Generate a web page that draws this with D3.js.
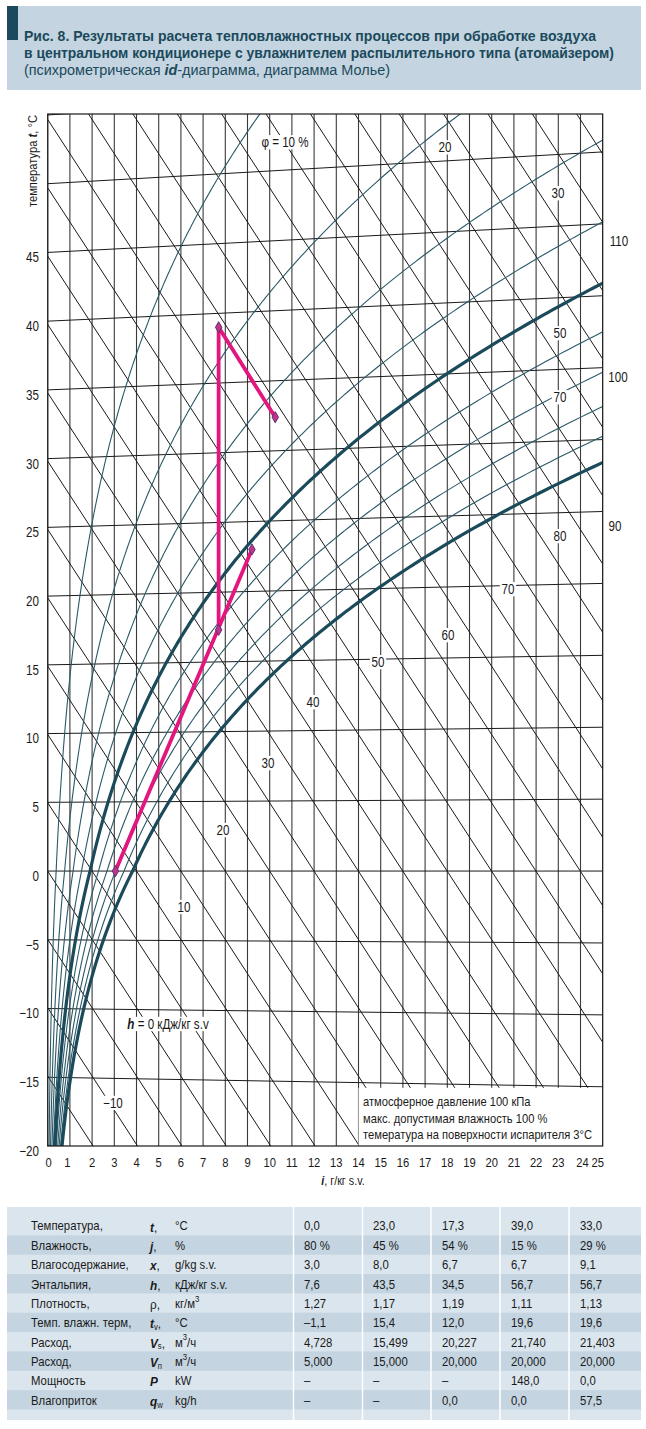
<!DOCTYPE html>
<html><head><meta charset="utf-8">
<script src="https://cdn.jsdelivr.net/npm/d3@7"></script>
<style>
body{margin:0;background:#fff;}
svg text{font-family:"Liberation Sans","Arial",sans-serif;}
</style></head><body>
<svg id="c" width="646" height="1429"></svg>
<script>
// ---------------- DATA ----------------
const xTicks = d3.range(0, 26);                    // moisture content, g/kg
const isotherms = d3.range(-20, 56, 5);            // °C
const tTickLabels = [45, 40, 35, 30, 25, 20, 15, 10, 5, 0, -5, -10, -15, -20];
const enthalpies = d3.range(-20, 120, 5);          // kJ/kg
const rhThin = [0.1, 0.2, 0.3, 0.4, 0.6, 0.7, 0.8, 0.9];
const rhThick = [0.5, 1.0];

// process points as plotted (x g/kg, t °C)
const procX = [3.05, 9.2, 7.7, 7.7, 10.25];
const procT = [0, 23, 17.3, 39, 32.4];
const procSegments = [[0, 1], [2, 3], [3, 4]];

// annotation labels (x g/kg, oblique y)
const hLabelText = ["−10", "10", "20", "30", "40", "50", "60", "70", "80"];
const hLabelX = [2.94, 6.14, 7.9, 9.92, 11.95, 14.88, 18.03, 20.73, 23.08];
const hLabelY = [-16.97, -2.63, 3.0, 7.9, 12.36, 15.29, 17.26, 20.63, 24.51];
const rhLabelText = ["φ = 10 %", "20", "30", "50", "70"];
const rhLabelX = [10.69, 17.9, 22.99, 23.08, 23.08];
const rhLabelY = [53.33, 52.96, 49.6, 39.36, 34.67];
const hRightText = ["110", "100", "90"];
const hRightX = [25.73, 25.69, 25.55];
const hRightY = [46.09, 36.14, 25.24];

// table
const rowLabels = ["Температура,", "Влажность,", "Влагосодержание,", "Энтальпия,", "Плотность,",
  "Темп. влажн. терм,", "Расход,", "Расход,", "Мощность", "Влагоприток"];
const rowSym = [["t", "", ","], ["j", "", ","], ["x", "", ","], ["h", "", ","], ["ρ", "", ","],
  ["t", "v", ","], ["V", "s", ","], ["V", "п", ""], ["P", "", ""], ["q", "w", ""]];
const rowUnit = [["°C", ""], ["%", ""], ["g/kg s.v.", ""], ["кДж/кг s.v.", ""], ["кг/м", "3"],
  ["°C", ""], ["м", "3", "/ч"], ["м", "3", "/ч"], ["kW", ""], ["kg/h", ""]];
const col1 = ["0,0", "80 %", "3,0", "7,6", "1,27", "–1,1", "4,728", "5,000", "–", "–"];
const col2 = ["23,0", "45 %", "8,0", "43,5", "1,17", "15,4", "15,499", "15,000", "–", "–"];
const col3 = ["17,3", "54 %", "6,7", "34,5", "1,19", "12,0", "20,227", "20,000", "–", "0,0"];
const col4 = ["39,0", "15 %", "6,7", "56,7", "1,11", "19,6", "21,740", "20,000", "148,0", "0,0"];
const col5 = ["33,0", "29 %", "9,1", "56,7", "1,13", "19,6", "21,403", "20,000", "0,0", "57,5"];

// ---------------- PHYSICS ----------------
const P = 100; // kPa
function psat(t) {
  return t >= 0 ? 0.61094 * Math.exp(17.625 * t / (t + 243.04))
                : 0.61115 * Math.exp(22.452 * t / (272.55 + t));
}
const Yof = (t, x) => t * (1.006 + 0.00186 * x);   // oblique ordinate

// ---------------- SCALES ----------------
const svg = d3.select("#c");
const xS = d3.scaleLinear().domain([0, 25]).range([47.7, 602.7]);
const yS = d3.scaleLinear().domain([-20.12, 55.4]).range([1146, 114]);
const L = xS(0), R = xS(25), T = yS(55.4), B = yS(-20.12);
const INK = "#1a1a1a", SX = 0.83;

// condensed text helper
function ctext(parent, x, y, size, opts = {}) {
  const gg = parent.append("g").attr("transform", `translate(${x},${y}) scale(${opts.sx || SX},1)`);
  const t = gg.append("text").attr("x", 0).attr("y", 0).attr("text-anchor", opts.anchor || "middle")
    .attr("dominant-baseline", opts.baseline || "central").attr("font-size", size).attr("fill", INK);
  return { g: gg, t };
}
function backing(o) {
  const bb = o.t.node().getBBox();
  o.g.insert("rect", "text").attr("x", bb.x - 2).attr("y", bb.y + 1).attr("width", bb.width + 4).attr("height", bb.height - 2).attr("fill", "#fff");
}

// title block
svg.append("rect").attr("x", 7).attr("y", 6).attr("width", 634).attr("height", 84).attr("fill", "#c4d4e0");
svg.append("rect").attr("x", 7).attr("y", 6).attr("width", 11).attr("height", 34).attr("fill", "#1b4a5c");
const tc = "#1b4a5c";
svg.append("text").attr("x", 24).attr("y", 41).attr("fill", tc).attr("font-weight", "bold").attr("font-size", 14)
  .attr("textLength", 572).attr("lengthAdjust", "spacingAndGlyphs")
  .text("Рис. 8. Результаты расчета тепловлажностных процессов при обработке воздуха");
svg.append("text").attr("x", 24).attr("y", 58).attr("fill", tc).attr("font-weight", "bold").attr("font-size", 14)
  .attr("textLength", 590).attr("lengthAdjust", "spacingAndGlyphs")
  .text("в центральном кондиционере с увлажнителем распылительного типа (атомайзером)");
const t3 = svg.append("text").attr("x", 24).attr("y", 75).attr("fill", tc).attr("font-size", 14)
  .attr("textLength", 366).attr("lengthAdjust", "spacingAndGlyphs");
t3.append("tspan").text("(психрометрическая ");
t3.append("tspan").attr("font-weight", "bold").attr("font-style", "italic").text("id");
t3.append("tspan").text("-диаграмма, диаграмма Молье)");

// clip
svg.append("clipPath").attr("id", "plot").append("rect").attr("x", L).attr("y", T).attr("width", R - L).attr("height", B - T);
const g = svg.append("g").attr("clip-path", "url(#plot)");

// vertical grid
g.selectAll("line.v").data(xTicks).join("line")
  .attr("x1", d => xS(d)).attr("x2", d => xS(d)).attr("y1", T).attr("y2", B)
  .attr("stroke", "#3a3a3a").attr("stroke-width", 1.1);

// isotherms
g.selectAll("line.t").data(isotherms).join("line")
  .attr("x1", xS(0)).attr("y1", d => yS(Yof(d, 0)))
  .attr("x2", xS(25)).attr("y2", d => yS(Yof(d, 25)))
  .attr("stroke", INK).attr("stroke-width", 1);

// enthalpy lines
g.selectAll("line.h").data(enthalpies).join("line")
  .attr("x1", xS(0)).attr("y1", d => yS(d))
  .attr("x2", xS(25)).attr("y2", d => yS(d - 2.501 * 25))
  .attr("stroke", INK).attr("stroke-width", 1);

// RH curves
function rhPts(phi) {
  const pts = [];
  for (let t = -21; t <= 62; t += 0.2) {
    const pv = phi * psat(t);
    const x = 622 * pv / (P - pv);
    pts.push([x, Yof(t, x)]);
    if (x > 26 || Yof(t, x) > 57) break;
  }
  return pts;
}
const line = d3.line().x(d => xS(d[0])).y(d => yS(d[1]));
g.selectAll("path.rh").data(rhThin).join("path").attr("d", d => line(rhPts(d)))
  .attr("fill", "none").attr("stroke", "#2a5968").attr("stroke-width", 1.1);
g.selectAll("path.rhk").data(rhThick).join("path").attr("d", d => line(rhPts(d)))
  .attr("fill", "none").attr("stroke", "#1b4a5a").attr("stroke-width", 3.2);

// legend box
const legTop = yS(Yof(-15, 25)) + 1;
g.append("rect").attr("x", xS(14)).attr("y", legTop).attr("width", R - xS(14)).attr("height", B - legTop).attr("fill", "#fff");
const legLines = ["атмосферное давление 100 кПа", "макс. допустимая влажность 100 %", "темература на поверхности испарителя 3°C"];
legLines.forEach((s, i) => ctext(svg, 363, 1101.7 + i * 16.7, 13, { anchor: "start", sx: 0.86 }).t.text(s));

// labels with white backing
const lab = svg.append("g");
hLabelText.forEach((s, i) => { const o = ctext(lab, xS(hLabelX[i]), yS(hLabelY[i]), 14); o.t.text(s); backing(o); });
rhLabelText.forEach((s, i) => { const o = ctext(lab, xS(rhLabelX[i]), yS(rhLabelY[i]), 14); o.t.text(s); backing(o); });
hRightText.forEach((s, i) => ctext(lab, xS(hRightX[i]), yS(hRightY[i]), 14).t.text(s));
{
  const o = ctext(lab, xS(5.42), yS(-11.19), 14);
  o.t.append("tspan").attr("font-weight", "bold").attr("font-style", "italic").text("h");
  o.t.append("tspan").text(" = 0 кДж/кг s.v");
  backing(o);
}

// process lines
const pc = d => [xS(procX[d]), yS(Yof(procT[d], procX[d]))];
svg.selectAll("line.p").data(procSegments).join("line")
  .attr("x1", d => pc(d[0])[0]).attr("y1", d => pc(d[0])[1])
  .attr("x2", d => pc(d[1])[0]).attr("y2", d => pc(d[1])[1])
  .attr("stroke", "#e3157f").attr("stroke-width", 3.8).attr("stroke-linecap", "round");
svg.selectAll("path.pm").data(procX.map((_, i) => i)).join("path")
  .attr("transform", d => `translate(${pc(d)[0]},${pc(d)[1]})`)
  .attr("d", d3.symbol(d3.symbolDiamond, 36)())
  .attr("fill", "#c2338a").attr("stroke", "#5b3477").attr("stroke-width", 1);

// frame
svg.append("rect").attr("x", L).attr("y", T).attr("width", R - L).attr("height", B - T)
  .attr("fill", "none").attr("stroke", INK).attr("stroke-width", 1.2);

// y tick labels
tTickLabels.forEach(d => ctext(svg, 39, yS(Yof(d, 0)) + 5, 14, { anchor: "end" }).t.text(d < 0 ? "−" + Math.abs(d) : d));

// x tick labels
xTicks.forEach(d => ctext(svg, xS(d) + (d === 1 ? -2.5 : d === 25 ? -5 : d === 24 ? 2 : d === 0 ? 1 : 0), 1163, 13.5).t.text(d));

// axis titles
{
  const o = ctext(svg, 343, 1181, 13);
  o.t.append("tspan").attr("font-weight", "bold").attr("font-style", "italic").text("i");
  o.t.append("tspan").text(", г/кг s.v.");
}
{
  const gg = svg.append("g").attr("transform", "translate(37,115) rotate(-90) scale(0.86,1)");
  const yt = gg.append("text").attr("text-anchor", "end").attr("font-size", 13).attr("fill", INK);
  yt.append("tspan").text("температура ");
  yt.append("tspan").attr("font-weight", "bold").attr("font-style", "italic").text("t");
  yt.append("tspan").text(", °C");
}

// ---------------- TABLE ----------------
const tblTop = 1207, rowH = 19.35, row0 = 1216;
svg.append("rect").attr("x", 7).attr("y", tblTop).attr("width", 634).attr("height", 213).attr("fill", "#dbe5ed");
svg.selectAll("rect.row").data(rowLabels.map((_, i) => i).filter(i => i % 2 === 1)).join("rect")
  .attr("x", 7).attr("y", i => row0 + i * rowH).attr("width", 634).attr("height", rowH).attr("fill", "#c4d4e0");
const colX = [293.5, 362.5, 431, 500, 569];
svg.selectAll("line.sep").data(colX).join("line")
  .attr("x1", d => d).attr("x2", d => d).attr("y1", tblTop).attr("y2", tblTop + 213)
  .attr("stroke", "#fff").attr("stroke-width", 1.5);
const tf = 13.2, tsx = 0.86;
rowLabels.forEach((s, i) => {
  const y = row0 + i * rowH + rowH / 2 + 0.5;
  ctext(svg, 31, y, tf, { anchor: "start", sx: tsx }).t.text(s);
  const sy = ctext(svg, 150, y, tf + 0.5, { anchor: "start", sx: tsx }).t;
  sy.append("tspan").attr("font-weight", rowSym[i][0] === "ρ" ? "normal" : "bold").attr("font-style", rowSym[i][0] === "ρ" ? "normal" : "italic").text(rowSym[i][0]);
  if (rowSym[i][1]) sy.append("tspan").attr("font-size", 9).attr("dy", 4).text(rowSym[i][1]);
  if (rowSym[i][2]) sy.append("tspan").attr("dy", rowSym[i][1] ? -4 : 0).text(rowSym[i][2]);
  const u = ctext(svg, 175, y, tf, { anchor: "start", sx: tsx }).t;
  u.append("tspan").text(rowUnit[i][0]);
  if (rowUnit[i][1]) u.append("tspan").attr("font-size", 9).attr("dy", -5).text(rowUnit[i][1]);
  if (rowUnit[i][2]) u.append("tspan").attr("dy", 5).text(rowUnit[i][2]);
});
const cols = [col1, col2, col3, col4, col5];
const valX = [304, 373, 442, 511, 580];
cols.forEach((c, j) => c.forEach((s, i) => {
  ctext(svg, valX[j], row0 + i * rowH + rowH / 2 + 0.5, tf, { anchor: "start", sx: tsx }).t.text(s);
}));
</script></body></html>
